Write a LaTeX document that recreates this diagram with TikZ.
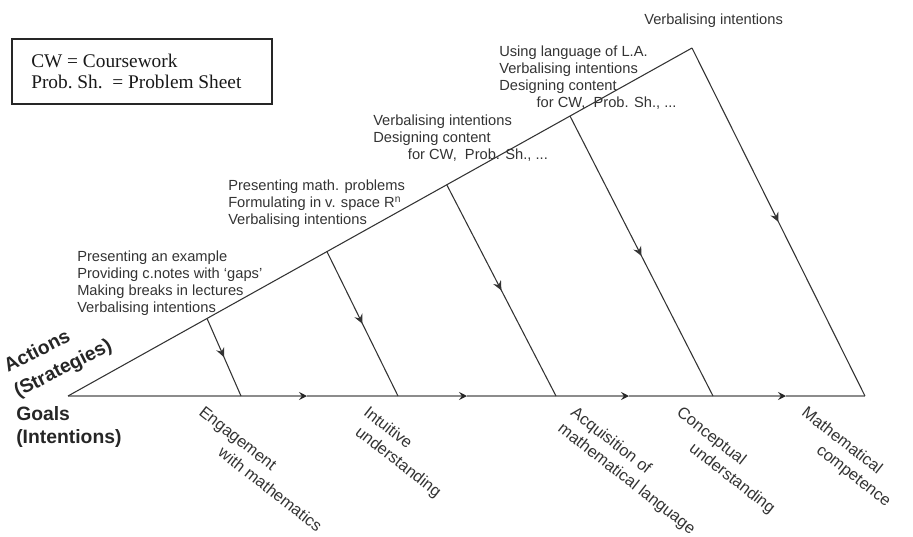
\documentclass[tikz,border=0pt]{standalone}
\usepackage{fontspec}
\setmainfont{Liberation Sans}
\newfontfamily\timesfont{Liberation Serif}
\usetikzlibrary{arrows.meta,decorations.markings,calc}
\begin{document}
\begin{tikzpicture}[x=0.75pt,y=-0.75pt,
  lbl/.style={font=\fontsize{11}{12.75}\selectfont, align=left, inner sep=0pt, text=black!80, anchor=north west},
  goal/.style={lbl, font=\fontsize{12.25}{15.25}\selectfont, rotate=-38},
  axislbl/.style={font=\bfseries\fontsize{14.5}{17}\selectfont, inner sep=0pt, text=black!85, anchor=base west},
  edge/.style={draw=black!80, line width=0.8pt},
  midarrow/.style={postaction={decorate}, decoration={markings, mark=at position 0.5 with {\arrow{Stealth[length=7pt,width=6.5pt,inset=2.4pt]}}}},
  basel/.style={draw=black!45, line width=1.5pt},
  btip/.style={-{Stealth[length=6pt,width=6pt,inset=2.2pt,color=black!85]}},
]
\useasboundingbox (0,0) rectangle (913,536);

% legend box
\node[draw=black!85, line width=0.9pt, minimum width=195pt, minimum height=48.75pt, inner sep=0pt] (legend) at (142,71.5) {};
\node[font=\timesfont\fontsize{14.5}{15.75}\selectfont, align=left, inner sep=0pt, anchor=north west, text=black!90] (legendtext) at (31,54) {CW = Coursework\\Prob.~Sh.\ \ = Problem Sheet};

% main geometry
\coordinate (O) at (68,396);
\coordinate (P) at (692,48);
\coordinate (R) at (865,396);
\coordinate (t1) at ($(O)!0.2228!(P)$);
\coordinate (t2) at ($(O)!0.415!(P)$);
\coordinate (t3) at ($(O)!0.607!(P)$);
\coordinate (t4) at ($(O)!0.8045!(P)$);
\coordinate (b1) at (241,396);
\coordinate (b2) at (398,396);
\coordinate (b3) at (556,396);
\coordinate (b4) at (713,396);
\coordinate (g1) at (307,396);
\coordinate (g2) at (467,396);
\coordinate (g3) at (629,396);
\coordinate (g4) at (786,396);

% baseline
\draw[basel,btip] (O) -- (g1);
\draw[basel,btip] (g1) -- (g2);
\draw[basel,btip] (g2) -- (g3);
\draw[basel,btip] (g3) -- (g4);
\draw[basel] (g4) -- (R);

% triangle and cross lines
\draw[edge] (O) -- (P);
\draw[edge,midarrow] (P) -- (R);
\draw[edge,midarrow] (t1) -- (b1);
\draw[edge,midarrow] (t2) -- (b2);
\draw[edge,midarrow] (t3) -- (b3);
\draw[edge,midarrow] (t4) -- (b4);

% action texts
\node[lbl] (a1) at (77,251) {Presenting an example\\Providing c.notes with ‘gaps’\\Making breaks in lectures\\Verbalising intentions};
\node[lbl] (a2) at (228,180) {Presenting math. problems\\Formulating in v. space R\textsuperscript{n}\\Verbalising intentions};
\node[lbl] (a3) at (373,115) {Verbalising intentions\\Designing content\\\hspace*{26pt}for CW,\ \ Prob. Sh., ...};
\node[lbl] (a4) at (499,46) {Using language of L.A.\\Verbalising intentions\\Designing content\\\hspace*{28pt}for CW,\ \ Prob. Sh., ...};
\node[lbl] (a5) at (644,14) {Verbalising intentions};

% axis labels
\node[axislbl, rotate=27] (act1) at (8,373) {Actions};
\node[axislbl, rotate=27] (act2) at (18,398) {(Strategies)};
\node[axislbl] (goal1) at (16,420) {Goals};
\node[axislbl] (goal2) at (16,443) {(Intentions)};

% goal labels
\node[goal] (e1) at (205,405) {Engagement\\\hspace*{30pt}with mathematics};
\node[goal] (e2) at (370,405) {Intuitive\\\hspace*{4pt}understanding};
\node[goal] (e3) at (577,405) {Acquisition of\\mathematical language};
\node[goal] (e4) at (683,405) {Conceptual\\\hspace*{24pt}understanding};
\node[goal] (e5) at (808,405) {Mathematical\\\hspace*{26pt}competence};
\end{tikzpicture}
\end{document}
